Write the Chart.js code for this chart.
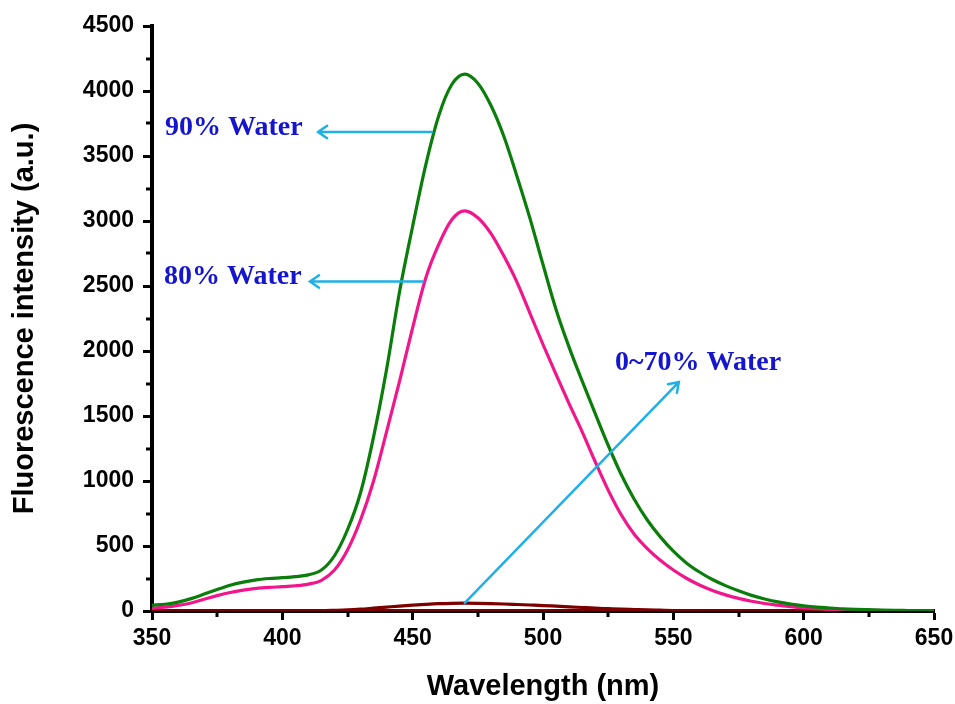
<!DOCTYPE html>
<html>
<head>
<meta charset="utf-8">
<title>Fluorescence spectra</title>
<script src="https://cdn.jsdelivr.net/npm/chart.js@4.4.0/dist/chart.umd.min.js"></script>
<style>
  html, body { margin: 0; padding: 0; background: #fff; }
</style>
</head>
<body>
<canvas id="spectra" width="955" height="704"></canvas>
<script>
// wavelength grid (nm)
const wavelength = [
  350, 355, 360, 365, 370, 375, 380, 385, 390, 395,
  400, 405, 410, 415, 420, 425, 430, 435, 440, 445,
  450, 455, 460, 465, 470, 475, 480, 485, 490, 495,
  500, 505, 510, 515, 520, 525, 530, 535, 540, 545,
  550, 555, 560, 565, 570, 575, 580, 585, 590, 595,
  600, 605, 610, 615, 620, 625, 630, 635, 640, 645, 650
];

// 90% water
const water90 = [
  45, 52, 68, 95, 130, 165, 198, 222, 240, 250,
  256, 264, 278, 315, 425, 625, 910, 1340, 1860, 2460,
  2960, 3430, 3810, 4050, 4130, 4060, 3890, 3650, 3345, 3020,
  2665, 2320, 2030, 1770, 1520, 1275, 1050, 860, 700, 570,
  460, 370, 300, 242, 195, 155, 120, 92, 70, 53,
  40, 30, 23, 17, 13, 10, 7, 5, 4, 3, 2
];

// 80% water
const water80 = [
  22, 30, 43, 62, 90, 118, 142, 160, 174, 182,
  187, 194, 207, 236, 315, 470, 700, 1000, 1380, 1770,
  2180, 2560, 2820, 3010, 3078, 3025, 2905, 2730, 2530, 2290,
  2050, 1820, 1595, 1380, 1150, 930, 740, 590, 480, 390,
  315, 252, 200, 158, 124, 97, 75, 58, 45, 33,
  24, 18, 13, 10, 7, 5, 4, 3, 2, 2, 1
];

// 70% water
const water70 = [
  2, 2, 2, 2, 2, 2, 2, 2, 2, 2,
  2, 2, 3, 3, 5, 8, 14, 22, 30, 38,
  45, 51, 56, 59, 60, 59, 57, 54, 50, 46,
  42, 37, 32, 27, 22, 18, 14, 11, 8, 6,
  4, 3, 2, 2, 1, 1, 1, 1, 1, 1,
  1, 1, 1, 1, 1, 1, 1, 1, 1, 1, 1
];

// 0~60% water (flat near zero)
const water0to60 = [
  1, 1, 1, 1, 1, 1, 1, 1, 1, 1,
  1, 1, 1, 1, 1, 2, 2, 2, 3, 3,
  3, 3, 3, 3, 3, 3, 3, 3, 3, 3,
  3, 2, 2, 2, 2, 2, 2, 1, 1, 1,
  1, 1, 1, 1, 1, 1, 1, 1, 1, 1,
  1, 1, 1, 1, 1, 1, 1, 1, 1, 1, 1
];

const xTicks = [350, 400, 450, 500, 550, 600, 650];
const yTicks = [0, 500, 1000, 1500, 2000, 2500, 3000, 3500, 4000, 4500];

// labels with arrows, in data units
const notes = [
  { text: '90% Water', textAt: [355, 3715], from: [457.4, 3685], to: [413.7, 3685] },
  { text: '80% Water', textAt: [354.6, 2569], from: [454, 2535], to: [410.6, 2535] },
  { text: '0~70% Water', textAt: [527.6, 1908], from: [470, 62], to: [552.1, 1761] }
];

function pts(ys) {
  return wavelength.map(function(w, i) { return { x: w, y: ys[i] }; });
}

function series(label, ys, color, order) {
  return {
    label: label,
    data: pts(ys),
    borderColor: color,
    borderWidth: 3.2,
    pointRadius: 0,
    fill: false,
    cubicInterpolationMode: 'monotone',
    order: order
  };
}

// minor ticks half way between the labelled ones
const minorTicks = {
  id: 'minorTicks',
  afterDraw: function(chart) {
    const ctx = chart.ctx;
    const xs = chart.scales.x, ys = chart.scales.y;
    const area = chart.chartArea;
    ctx.save();
    ctx.strokeStyle = '#000';
    ctx.lineWidth = 3;
    ctx.beginPath();
    for (let i = 0; i < xTicks.length - 1; i++) {
      const px = Math.round(xs.getPixelForValue((xTicks[i] + xTicks[i + 1]) / 2));
      ctx.moveTo(px, area.bottom);
      ctx.lineTo(px, area.bottom + 6);
    }
    for (let i = 0; i < yTicks.length - 1; i++) {
      const py = Math.round(ys.getPixelForValue((yTicks[i] + yTicks[i + 1]) / 2));
      ctx.moveTo(area.left, py);
      ctx.lineTo(area.left - 6, py);
    }
    ctx.stroke();
    ctx.restore();
  }
};

const arrowNotes = {
  id: 'arrowNotes',
  afterDatasetsDraw: function(chart) {
    const ctx = chart.ctx;
    const xs = chart.scales.x, ys = chart.scales.y;
    ctx.save();
    notes.forEach(function(n) {
      const x1 = xs.getPixelForValue(n.from[0]), y1 = ys.getPixelForValue(n.from[1]);
      const x2 = xs.getPixelForValue(n.to[0]), y2 = ys.getPixelForValue(n.to[1]);
      const a = Math.atan2(y2 - y1, x2 - x1);
      const len = 11;
      ctx.strokeStyle = '#1fb0e6';
      ctx.lineWidth = 2.5;
      ctx.lineCap = 'round';
      ctx.beginPath();
      ctx.moveTo(x1, y1);
      ctx.lineTo(x2, y2);
      ctx.moveTo(x2 - len * Math.cos(a - 0.6), y2 - len * Math.sin(a - 0.6));
      ctx.lineTo(x2, y2);
      ctx.lineTo(x2 - len * Math.cos(a + 0.6), y2 - len * Math.sin(a + 0.6));
      ctx.stroke();

      ctx.fillStyle = '#1515cf';
      ctx.font = 'bold 28px "Liberation Serif", "Times New Roman", serif';
      ctx.textAlign = 'left';
      ctx.textBaseline = 'middle';
      ctx.fillText(n.text, xs.getPixelForValue(n.textAt[0]), ys.getPixelForValue(n.textAt[1]));
    });
    ctx.restore();
  }
};

const tickFont = { family: '"Liberation Sans", Arial, sans-serif', size: 23, weight: 'bold' };
const titleFont = { family: '"Liberation Sans", Arial, sans-serif', size: 29, weight: 'bold' };
const plain = function(v) { return String(v); };

const ctx = document.getElementById('spectra').getContext('2d');
new Chart(ctx, {
  type: 'line',
  data: {
    datasets: [
      series('90% Water', water90, '#0a7d0a', 0),
      series('80% Water', water80, '#f2168c', 1),
      series('70% Water', water70, '#7d0000', 2),
      series('0~60% Water', water0to60, '#7d0000', 3)
    ]
  },
  options: {
    responsive: false,
    animation: false,
    layout: { padding: { top: 26, right: 21, left: 0, bottom: 0 } },
    plugins: {
      legend: { display: false },
      tooltip: { enabled: false }
    },
    scales: {
      x: {
        type: 'linear',
        min: 350,
        max: 650,
        afterFit: function(s) { s.height = 93; s.paddingLeft = 0; s.paddingRight = 0; },
        afterBuildTicks: function(s) { s.ticks = xTicks.map(function(v) { return { value: v }; }); },
        ticks: { color: '#000', font: tickFont, padding: 5, maxRotation: 0, callback: plain },
        grid: { drawOnChartArea: false, drawTicks: true, tickLength: 9, tickWidth: 3, tickColor: '#000' },
        border: { display: true, color: '#000', width: 4 },
        title: { display: true, text: 'Wavelength (nm)', color: '#000', font: titleFont, padding: 0 }
      },
      y: {
        min: 0,
        max: 4500,
        afterFit: function(s) { s.width = 152; s.paddingTop = 0; s.paddingBottom = 0; },
        afterBuildTicks: function(s) { s.ticks = yTicks.map(function(v) { return { value: v }; }); },
        ticks: { color: '#000', font: tickFont, padding: 9, callback: plain },
        grid: { drawOnChartArea: false, drawTicks: true, tickLength: 9, tickWidth: 3, tickColor: '#000' },
        border: { display: true, color: '#000', width: 4 },
        title: { display: true, text: 'Fluorescence intensity (a.u.)', color: '#000', font: titleFont, padding: { top: 8, bottom: 0 } }
      }
    }
  },
  plugins: [minorTicks, arrowNotes]
});
</script>
</body>
</html>
